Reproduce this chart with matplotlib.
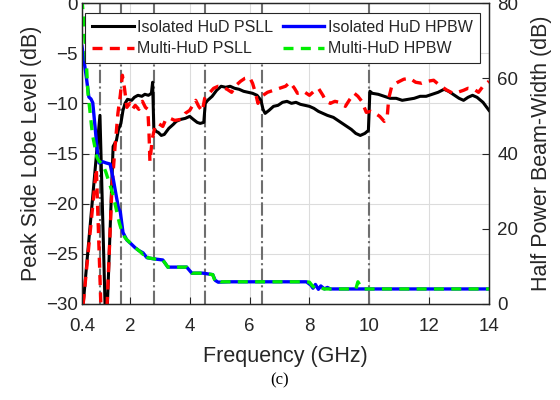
import matplotlib
matplotlib.use('Agg')
import matplotlib.pyplot as plt

plt.rcParams['font.family'] = ['Liberation Sans', 'DejaVu Sans']
plt.rcParams['axes.unicode_minus'] = True

# Isolated HuD peak side lobe level (dB)
iso_psll_f = [0.44, 1.00, 1.17, 1.21, 1.25, 1.44, 1.55, 1.62, 1.70, 1.77, 1.84, 1.92, 2.06, 2.15,
              2.27, 2.40, 2.50, 2.62, 2.72, 2.76, 2.80, 2.88, 2.95, 3.05, 3.15, 3.30, 3.45, 3.55,
              3.70, 3.85, 4.00, 4.12, 4.25, 4.35, 4.47, 4.52, 4.60, 4.75, 4.90, 5.05, 5.20, 5.35,
              5.50, 5.65, 5.80, 5.95, 6.10, 6.25, 6.38, 6.45, 6.52, 6.65, 6.80, 6.95, 7.10, 7.25,
              7.40, 7.55, 7.70, 7.85, 8.00, 8.15, 8.30, 8.45, 8.60, 8.80, 9.00, 9.20, 9.40, 9.55,
              9.70, 9.85, 9.97, 10.02, 10.10, 10.30, 10.50, 10.70, 10.90, 11.10, 11.30, 11.50,
              11.70, 11.90, 12.10, 12.30, 12.50, 12.65, 12.80, 13.00, 13.15, 13.30, 13.45, 13.60,
              13.80, 13.95, 14.00]
iso_psll = [-30, -11.2, -30, -33, -30, -14.3, -13.7, -12.6, -12.0, -10.7, -10.0, -9.6, -9.7, -9.4,
            -9.2, -9.3, -9.1, -9.2, -9.0, -7.9, -12.5, -12.8, -12.9, -13.2, -13.1, -12.5, -12.1, -11.8,
            -11.6, -11.5, -11.3, -11.6, -11.9, -12.0, -11.9, -10.0, -9.7, -9.3, -8.7, -8.3, -8.4, -8.3,
            -8.5, -8.6, -8.8, -8.9, -9.0, -9.2, -9.7, -10.6, -11.0, -10.7, -10.3, -10.2, -9.9, -9.8,
            -10.0, -9.9, -10.1, -10.2, -10.3, -10.5, -10.8, -11.0, -11.2, -11.4, -11.8, -12.2, -12.6, -13.0,
            -13.2, -13.0, -12.7, -8.8, -9.0, -9.1, -9.3, -9.5, -9.5, -9.7, -9.6, -9.5,
            -9.3, -9.3, -9.1, -8.9, -8.6, -8.8, -9.1, -9.5, -9.7, -9.4, -9.2, -9.4,
            -9.9, -10.5, -10.7]

# Multi-HuD peak side lobe level (dB)
multi_psll_f = [0.44, 0.88, 1.03, 1.10, 1.24, 1.40, 1.50, 1.60, 1.68, 1.75, 1.82, 1.90, 2.00, 2.08,
                2.18, 2.30, 2.42, 2.52, 2.60, 2.64, 2.67, 2.75, 2.85, 2.95, 3.10, 3.20, 3.35, 3.50,
                3.70, 3.85, 4.00, 4.10, 4.20, 4.30, 4.42, 4.50, 4.65, 4.80, 4.95, 5.10, 5.25, 5.40,
                5.55, 5.70, 5.85, 6.00, 6.10, 6.20, 6.28, 6.40, 6.60, 6.80, 7.00, 7.20, 7.35, 7.50,
                7.60, 7.80, 8.00, 8.15, 8.30, 8.45, 8.55, 8.70, 8.85, 9.00, 9.20, 9.35, 9.50, 9.62,
                9.75, 9.90, 10.05, 10.20, 10.35, 10.50, 10.60, 10.65, 10.75, 10.95, 11.15, 11.35,
                11.55, 11.75, 11.95, 12.15, 12.35, 12.60, 12.80, 12.95, 13.15, 13.30, 13.50, 13.65,
                13.80, 14.00]
multi_psll = [-30, -16.5, -30, -33, -30, -18.5, -14.5, -11.0, -9.2, -7.2, -8.5, -10.4, -10.0, -10.6,
              -10.2, -10.6, -9.8, -10.4, -10.6, -13.0, -15.8, -13.5, -12.2, -12.0, -12.3, -11.6, -11.5, -11.7,
              -11.6, -11.0, -10.7, -10.2, -9.7, -10.3, -10.8, -9.5, -9.0, -8.5, -8.3, -8.4, -8.6, -8.9,
              -8.2, -7.8, -7.5, -7.4, -8.0, -9.0, -10.0, -9.3, -8.9, -8.7, -8.5, -8.3, -7.9, -8.5,
              -9.0, -8.8, -9.2, -8.8, -8.5, -9.2, -9.8, -10.0, -9.8, -9.9, -10.3, -9.6, -9.0, -9.3,
              -9.8, -10.9, -10.8, -11.0, -11.3, -11.8, -11.3, -9.5, -8.3, -7.9, -7.6, -7.5,
              -7.9, -8.0, -7.8, -7.7, -8.2, -8.7, -9.0, -8.9, -8.7, -8.5, -8.6, -8.9,
              -8.3, -7.8]

# Isolated HuD half power beam-width
iso_hpbw_f = [0.40, 0.55, 0.63, 0.70, 0.76, 0.85, 0.93, 0.97, 1.10, 1.20, 1.34, 1.45, 1.55, 1.62,
              1.68, 1.77, 1.90, 2.00, 2.17, 2.30, 2.44, 2.57, 2.80, 3.10, 3.27, 3.90, 4.07, 4.44,
              4.77, 4.85, 4.95, 5.30, 7.90, 8.05, 8.12, 8.20, 8.30, 8.38, 8.50, 8.60, 8.70, 14.00]
iso_hpbw = [68.5, 60.0, 55.0, 54.5, 53.5, 46.0, 39.0, 37.5, 37.8, 37.5, 37.2, 33.0, 28.5, 25.5,
            24.5, 19.0, 17.0, 16.3, 15.0, 14.2, 13.6, 12.3, 12.0, 11.7, 9.8, 9.8, 8.2, 8.2,
            7.8, 6.3, 5.8, 5.9, 5.9, 5.0, 4.2, 5.2, 3.9, 4.8, 4.0, 4.4, 4.0, 4.0]

# Multi-HuD half power beam-width
multi_hpbw_f = [0.40, 0.45, 0.52, 0.60, 0.67, 0.75, 0.90, 0.97, 1.10, 1.20, 1.30, 1.44, 1.55, 1.65,
                1.75, 1.85, 2.00, 2.17, 2.30, 2.44, 2.50, 2.55, 2.60, 2.80, 3.10, 3.27, 3.90, 4.07,
                4.44, 4.77, 4.85, 4.95, 5.05, 5.30, 7.90, 8.00, 8.10, 8.20, 8.30, 8.50, 8.70, 9.55,
                9.62, 9.72, 9.80, 14.00]
multi_hpbw = [81.0, 76.0, 68.0, 56.0, 51.0, 45.0, 39.0, 38.0, 37.0, 35.0, 32.5, 29.0, 25.0, 21.5,
              18.8, 17.5, 16.3, 15.0, 14.2, 13.2, 13.8, 13.0, 12.3, 12.0, 11.7, 9.8, 9.8, 8.2,
              8.2, 7.8, 6.0, 6.4, 5.9, 5.9, 5.9, 5.8, 4.8, 4.2, 4.4, 4.0, 4.0, 4.0,
              5.9, 4.6, 4.0, 4.0]

marker_f = [1.0, 1.7, 2.8, 4.5, 6.4, 10.0]
xticks = [0.4, 2, 4, 6, 8, 10, 12, 14]
xtick_labels = ['0.4', '2', '4', '6', '8', '10', '12', '14']

txt = '#262626'

fig = plt.figure(figsize=(5.6, 4), dpi=100)
ax = fig.add_axes([0.1464, 0.24, 0.7268, 0.7525])
ax2 = ax.twinx()

for f in marker_f:
    ax.axvline(f, color='#6e6e6e', linestyle='-.', linewidth=1.5, zorder=1)

l1, = ax.plot(iso_psll_f, iso_psll, color='black', linewidth=2.2, label='Isolated HuD PSLL', zorder=3)
l2, = ax.plot(multi_psll_f, multi_psll, color='red', linewidth=2.4, linestyle=(0, (3, 2.2)),
              label='Multi-HuD PSLL', zorder=3)
l3, = ax2.plot(iso_hpbw_f, iso_hpbw, color='blue', linewidth=2.4, label='Isolated HuD HPBW')
l4, = ax2.plot(multi_hpbw_f, multi_hpbw, color='#00ee00', linewidth=2.4, linestyle=(0, (3, 2.2)),
               label='Multi-HuD HPBW')

ax.set_xlim(0.4, 14)
ax.set_ylim(-30, 0)
ax2.set_ylim(0, 80)
ax.set_xticks(xticks)
ax.set_xticklabels(xtick_labels)
ax.set_yticks(range(-30, 1, 5))
ax2.set_yticks(range(0, 81, 20))

ax.grid(True, color='#dcdcdc', linewidth=0.8, zorder=0)
ax.set_axisbelow(True)

for a in (ax, ax2):
    a.tick_params(direction='in', length=5, width=0.8, colors=txt, labelsize=13.5)
    for s in a.spines.values():
        s.set_color(txt)
        s.set_linewidth(0.9)
ax.tick_params(axis='y', top=False, right=False, pad=3)
ax.tick_params(axis='x', pad=10)
ax2.tick_params(pad=6)

ax.set_xlabel('Frequency (GHz)', fontsize=15.5, color=txt, labelpad=8)
ax.set_ylabel('Peak Side Lobe Level (dB)', fontsize=15.5, color=txt, labelpad=3)
ax2.set_ylabel('Half Power Beam-Width (dB)', fontsize=15.5, color=txt, labelpad=9)

leg = ax2.legend(handles=[l1, l2, l3, l4], ncol=2, loc='upper left',
                 bbox_to_anchor=(0.008, 0.968), borderaxespad=0, fontsize=11.5,
                 handlelength=2.6, handletextpad=0.2, columnspacing=0.6, labelspacing=0.4,
                 borderpad=0.45, fancybox=False, framealpha=1, edgecolor=txt)
leg.get_frame().set_linewidth(0.8)
for t in leg.get_texts():
    t.set_color(txt)

fig.text(0.5, 0.05, '(c)', ha='center', va='center', fontsize=12,
         family=['Liberation Serif', 'DejaVu Serif'])

fig.savefig('out.png', dpi=100)
